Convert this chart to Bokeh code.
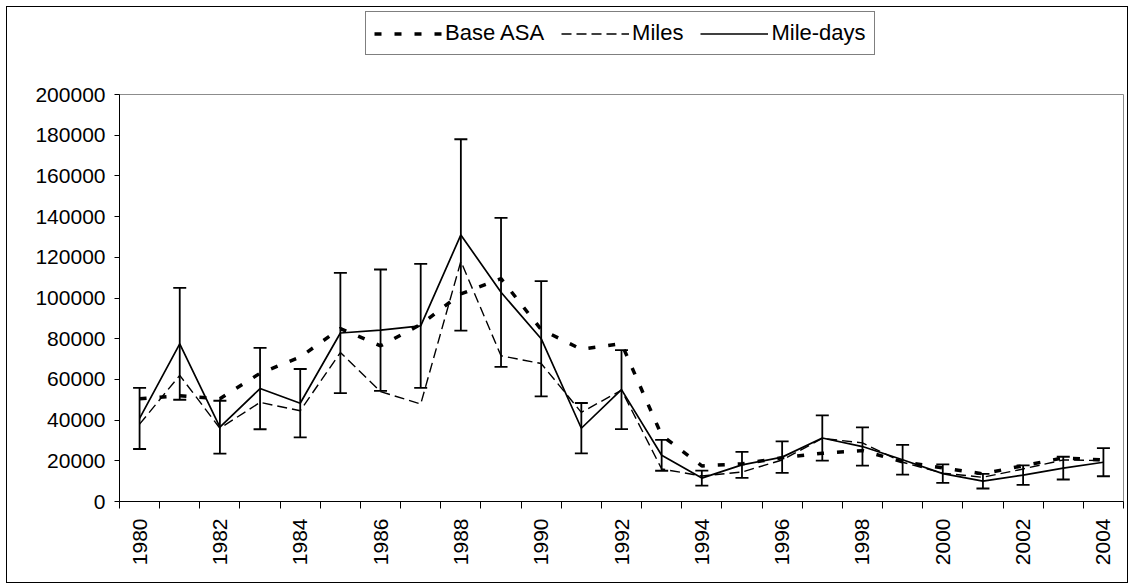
import math
from bokeh.plotting import figure
from bokeh.layouts import column
from bokeh.models import (ColumnDataSource, Whisker, TeeHead, Legend, LegendItem,
                          FixedTicker, PrintfTickFormatter, Range1d)
from bokeh.embed import file_html
from bokeh.resources import INLINE

years = list(range(1980, 2005))
base_asa = [50500, 52000, 50500, 63000, 71000, 85000, 76500, 87000, 102000, 109500,
            84500, 74800, 77600, 32500, 17500, 18500, 21500, 23700, 25000, 19500,
            16500, 13600, 17600, 21400, 20400]
miles = [38000, 62000, 36000, 48700, 44600, 73200, 54000, 47900, 118000, 71600,
         67800, 43800, 54700, 16000, 12500, 14500, 20400, 31000, 28800, 19300,
         13900, 11900, 16000, 20400, 20100]
mile_days = [40800, 77500, 36500, 55500, 48300, 82800, 84200, 86300, 131000, 102800,
             80000, 36000, 55000, 22700, 11500, 18000, 21800, 31200, 27000, 20500,
             13700, 10000, 13000, 16400, 19300]
md_err = [15000, 27500, 13000, 20000, 16800, 29500, 29800, 30500, 47000, 36600,
          28300, 12400, 19400, 7600, 3700, 6400, 7700, 11100, 9400, 7300,
          4500, 3600, 4800, 5600, 6900]
series_names = ["Base ASA", "Miles", "Mile-days"]
x_labels = [str(y) for y in years if y % 2 == 0]
y_ticks = list(range(0, 200001, 20000))

FONT = "Liberation Sans"
STYLES = [dict(line_color="black", line_width=3.5, line_dash="7 13"),
          dict(line_color="black", line_width=1.4, line_dash="10 5"),
          dict(line_color="black", line_width=1.7)]

src = ColumnDataSource(dict(
    x=years, base=base_asa, miles=miles, md=mile_days,
    upper=[m + e for m, e in zip(mile_days, md_err)],
    lower=[m - e for m, e in zip(mile_days, md_err)],
))

# ---- main chart ----
p = figure(width=1120, height=505, output_backend="svg", toolbar_location=None,
           x_range=Range1d(1979.5, 2004.5), y_range=Range1d(0, 200000),
           min_border_left=112, min_border_right=4, min_border_top=17,
           min_border_bottom=81)
p.background_fill_color = "white"
p.border_fill_color = "white"
p.outline_line_color = "#8c8c8c"
p.outline_line_width = 1
p.xgrid.visible = False
p.ygrid.visible = False

p.line("x", "base", source=src, **STYLES[0])
p.line("x", "miles", source=src, **STYLES[1])
p.line("x", "md", source=src, **STYLES[2])

wh = Whisker(source=src, base="x", upper="upper", lower="lower",
             line_color="black", line_width=1.8,
             upper_head=TeeHead(size=13, line_width=1.8, line_color="black"),
             lower_head=TeeHead(size=13, line_width=1.8, line_color="black"))
p.add_layout(wh)

even_years = [y for y in years if y % 2 == 0]
xa = p.xaxis[0]
xa.ticker = FixedTicker(ticks=even_years,
                        minor_ticks=[y - 0.5 for y in years] + [years[-1] + 0.5])
xa.major_label_overrides = {y: s for y, s in zip(even_years, x_labels)}
xa.major_tick_in = 0
xa.major_tick_out = 0
xa.minor_tick_in = 0
xa.minor_tick_out = 7
xa.minor_tick_line_color = "black"
xa.axis_line_color = "black"
xa.major_label_orientation = math.pi / 2
xa.major_label_standoff = 10
xa.major_label_text_font = FONT
xa.major_label_text_font_size = "21px"
xa.major_label_text_color = "black"

ya = p.yaxis[0]
ya.ticker = FixedTicker(ticks=y_ticks, minor_ticks=[])
ya.formatter = PrintfTickFormatter(format="%d")
ya.major_tick_in = 0
ya.major_tick_out = 5
ya.major_tick_line_color = "black"
ya.minor_tick_line_color = None
ya.axis_line_color = "black"
ya.major_label_standoff = 9
ya.major_label_text_font = FONT
ya.major_label_text_font_size = "21px"
ya.major_label_text_color = "black"

# ---- legend strip above the chart (series drawn off-range, only their legend shows) ----
lg = figure(width=1120, height=70, output_backend="svg", toolbar_location=None,
            x_range=Range1d(0, 1), y_range=Range1d(0, 1),
            x_axis_location=None, y_axis_location=None,
            min_border_left=0, min_border_right=0, min_border_top=0,
            min_border_bottom=0)
lg.outline_line_color = None
lg.xgrid.visible = False
lg.ygrid.visible = False
lg.background_fill_color = "white"
lg.border_fill_color = "white"
proxies = [lg.line("x", col, source=src, **st)
           for col, st in zip(["base", "miles", "md"], STYLES)]

legend = Legend(items=[LegendItem(label=n, renderers=[r])
                       for n, r in zip(series_names, proxies)],
                orientation="horizontal", location=(246, 22),
                border_line_color="black", border_line_width=1,
                background_fill_color="white", background_fill_alpha=1,
                label_text_font=FONT, label_text_font_size="22px",
                label_text_color="black",
                glyph_width=68, glyph_height=25, label_standoff=3,
                spacing=17, padding=8, margin=0)
lg.add_layout(legend)

layout = column(lg, p, spacing=0,
                styles={"margin-left": "7px", "margin-top": "7px",
                        "outline": "1px solid black"})

open("out.html", "w").write(file_html(layout, INLINE))
